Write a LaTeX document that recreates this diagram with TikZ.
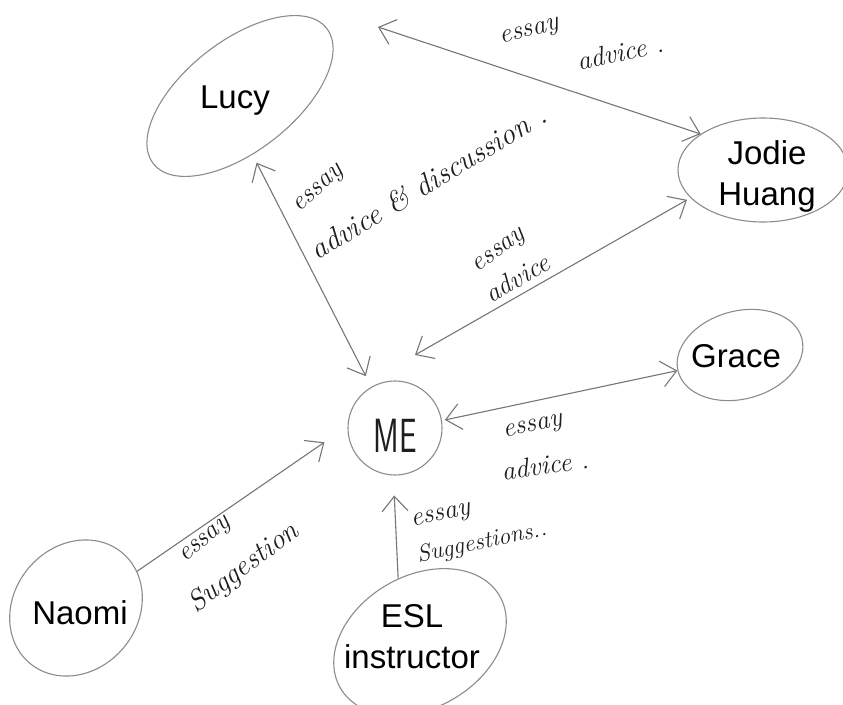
\documentclass[tikz,border=0pt]{standalone}
\usepackage{fontspec}
\usepackage{graphicx}
\usetikzlibrary{shapes.geometric,arrows.meta}
\newfontfamily\namefont{Liberation Sans}
\definecolor{pencil}{HTML}{767676}
\definecolor{lead}{HTML}{8C8C8C}
\definecolor{ink}{HTML}{1E1E1E}
\newcommand\handsize[1]{\fontsize{#1}{#1}\selectfont\itshape}

\begin{document}
\begin{tikzpicture}[x=1pt,y=-1pt,
  oval/.style={ellipse, draw=lead, line width=1.1pt, inner sep=0pt},
  person/.style={font=\namefont\fontsize{33}{41}\selectfont, align=center, inner sep=0pt},
  link/.style={draw=pencil, line width=1.1pt},
  >={Straight Barb[length=15pt,width=26pt]},
  note/.style={text=ink, inner sep=0pt, font=\handsize{27}}]

\fill[white] (0,0) rectangle (843,704);
\useasboundingbox (0,0) rectangle (843,704);

% people
\node[oval, minimum width=220pt, minimum height=110pt, rotate=38] (lucy) at (240,96) {};
\node[person] (lucy-name) at (235,101) {Lucy};

\node[oval, minimum width=170pt, minimum height=104pt] (jodie) at (763,170) {};
\node[person] (jodie-name) at (767,176) {Jodie\\Huang};

\node[oval, minimum width=128pt, minimum height=88pt, rotate=15] (grace) at (740,355) {};
\node[person] (grace-name) at (736,356) {Grace};

\node[circle, draw=lead, line width=1.1pt, minimum size=94pt, inner sep=0pt] (me) at (395,428) {};
\node[text=ink, font=\sffamily\fontsize{48}{48}\selectfont, inner sep=0pt] (me-name) at (395,436) {\scalebox{0.65}[1]{ME}};

\node[oval, minimum width=144pt, minimum height=124pt, rotate=50] (naomi) at (76,608) {};
\node[person] (naomi-name) at (80,613) {Naomi};

\node[oval, minimum width=184pt, minimum height=132pt, rotate=30] (esl) at (420,642) {};
\node[person] (esl-name) at (412,637) {ESL\\instructor};

% arrow tips that stop short of a person
\coordinate (lucy-tip) at ([shift={(138,-69)}]lucy.center);
\coordinate (me-tip) at ([shift={(20,-73)}]me.center);

% advice exchanges
\draw[link,<->] (jodie.150) -- (lucy-tip);
\draw[link,<->, shorten <=9pt, shorten >=12pt] (lucy.-116) -- (me.120);
\draw[link,<->, shorten <=4pt] (jodie.201) -- (me-tip);
\draw[link,<->, shorten <=3pt] (me.9) -- (grace.179);
\draw[link,->, shorten >=28pt] (naomi.-19) -- (me.178);
\draw[link,->, shorten >=20pt] (esl.79) -- (me.268);

% handwritten labels
\node[note, rotate=14] (l1a) at (530,33) {essay};
\node[note, rotate=12] (l1b) at (620,52) {advice .};
\node[note, rotate=42] (l2a) at (320,190) {essay};
\node[note, rotate=31, font=\handsize{30}] (l2b) at (428,182) {advice \& discussion .};
\node[note, rotate=36] (l3a) at (500,252) {essay};
\node[note, rotate=30] (l3b) at (517,278) {advice};
\node[note, rotate=12] (l4a) at (533,428) {essay};
\node[note, rotate=8] (l4b) at (545,465) {advice .};
\node[note, rotate=40] (l5a) at (206,541) {essay};
\node[note, rotate=37, font=\handsize{29}] (l5b) at (244,568) {Suggestion};
\node[note, rotate=12] (l6a) at (441,517) {essay};
\node[note, rotate=12, font=\handsize{24}] (l6b) at (482,543) {Suggestions..};
\end{tikzpicture}
\end{document}
